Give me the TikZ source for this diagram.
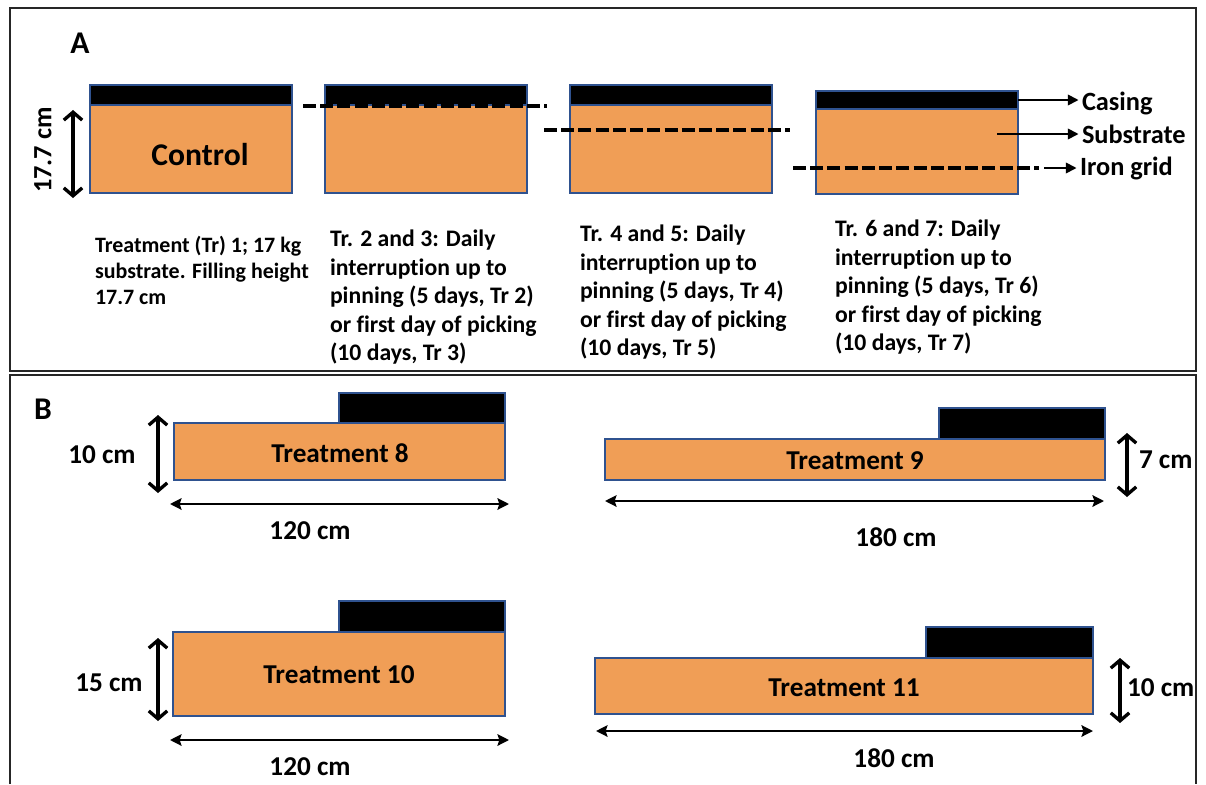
\documentclass[tikz,border=0pt]{standalone}
\usepackage{fontspec}
\setmainfont{Carlito}[Ligatures=NoCommon]
\usepackage{tikz}
\usetikzlibrary{positioning,arrows.meta,calc}
\definecolor{subfill}{RGB}{240,158,86}
\definecolor{boxline}{RGB}{47,82,143}

\begin{document}
\begin{tikzpicture}[
            x=0.02cm, y=-0.02cm,
            outer sep=0pt, inner sep=0pt,
            frame/.style={draw=black!85, line width=1.3pt},
            sub/.style={
                draw=boxline, fill=subfill, line width=0.8pt, anchor=north west
            },
            cas/.style={
                draw=boxline, fill=black, line width=0.8pt, anchor=south west
            },
            casr/.style={
                draw=boxline, fill=black, line width=0.8pt, anchor=south east
            },
            note/.style={font=\bfseries\fontsize{13.5}{16.2}\selectfont, align=left, anchor=north west},
            lbl/.style={font=\bfseries\fontsize{15.5}{18}\selectfont},
            big/.style={font=\bfseries\fontsize{18}{20}\selectfont},
            irongrid/.style={line width=1.9pt, dash pattern=on 7.4pt off 2.4pt},
            ptr/.style={-{Triangle[length=6pt, width=6pt]}, line width=1pt},
            hdim/.style={{Stealth[length=6.5pt, width=6.5pt, inset=1pt]}-{Stealth[length=6.5pt, width=6.5pt, inset=1pt]}, line width=1.4pt},
            vdim/.style={{Straight Barb[length=4.5pt, width=10.5pt]}-{Straight Barb[length=4.5pt, width=10.5pt]}, line width=1.9pt}
        ]
            \useasboundingbox (0,0) rectangle (1206,784);

            % --- KHUNG A VA B ---
            \draw[frame] (10,8) rectangle (1196,371);
            \draw[frame] (10,784) -- (10,375) -- (1196,375) -- (1196,784);
            \node[big] (A) at (80,43) {A};
            \node[big] (B) at (43,409) {B};

            % --- PHAN A: BON HOP ---
            \node[sub, minimum width=4.04cm, minimum height=1.76cm] (s1) at (90,105) {};
            \node[cas, minimum width=4.04cm, minimum height=0.4cm] (c1) at (s1.north west) {};
            \node[sub, minimum width=4.04cm, minimum height=1.76cm] (s2) at (325,105) {};
            \node[cas, minimum width=4.04cm, minimum height=0.4cm] (c2) at (s2.north west) {};
            \node[sub, minimum width=4.04cm, minimum height=1.76cm] (s3) at (570,105) {};
            \node[cas, minimum width=4.04cm, minimum height=0.4cm] (c3) at (s3.north west) {};
            \node[sub, minimum width=4.04cm, minimum height=1.70cm] (s4) at (816,109) {};
            \node[cas, minimum width=4.04cm, minimum height=0.36cm] (c4) at (s4.north west) {};
            \node[font=\bfseries\fontsize{18}{20}\selectfont] (ctrl) at (200,155) {Control};

            % chieu cao 17.7 cm
            \coordinate (v1a) at (73,110);
            \coordinate (v1b) at (73,198);
            \draw[vdim] (v1a) -- (v1b);
            \node[lbl, font=\bfseries\fontsize{15}{18}\selectfont, rotate=90] (h1) at (43,150) {17.7 cm};

            % luoi sat (net dut)
            \coordinate (g2a) at (303,106);
            \coordinate (g2b) at (547,106);
            \coordinate (g3a) at (544,130);
            \coordinate (g3b) at (790,130);
            \coordinate (g4a) at (793,168);
            \coordinate (g4b) at (1039,168);
            \coordinate (g4c) at (1044,168);
            \draw[irongrid] (g2a) -- (g2b);
            \draw[irongrid] (g3a) -- (g3b);
            \draw[irongrid] (g4a) -- (g4b);

            % --- CHU THICH BEN PHAI ---
            \node[lbl, font=\bfseries\fontsize{15}{18}\selectfont, anchor=west] (casing) at (1082,103) {Casing};
            \node[lbl, font=\bfseries\fontsize{15}{18}\selectfont, anchor=west] (substrate) at (1082,134) {Substrate};
            \node[lbl, font=\bfseries\fontsize{15}{18}\selectfont, anchor=west] (iron) at (1080,168) {Iron grid};
            \coordinate (p4) at (997,134);
            \draw[ptr] (c4.east) -- ([xshift=-2pt]c4.east -| casing.west);
            \draw[ptr] (p4) -- ([xshift=-2pt]p4 -| substrate.west);
            \draw[ptr] (g4c) -- ([xshift=-2pt]g4c -| iron.west);

            % --- MO TA CAC NGHIEM THUC ---
            \node[note, font=\bfseries\fontsize{12.5}{14.8}\selectfont] (t1) at (95,236) {Treatment (Tr) 1; 17 kg\\substrate. Filling height\\17.7 cm};
            \node[note] (t2) at (330,230) {Tr. 2 and 3: Daily\\interruption up to\\pinning (5 days, Tr 2)\\or first day of picking\\(10 days, Tr 3)};
            \node[note] (t3) at (580,225) {Tr. 4 and 5: Daily\\interruption up to\\pinning (5 days, Tr 4)\\or first day of picking\\(10 days, Tr 5)};
            \node[note] (t4) at (835,220) {Tr. 6 and 7: Daily\\interruption up to\\pinning (5 days, Tr 6)\\or first day of picking\\(10 days, Tr 7)};

            % --- PHAN B ---
            \node[sub, minimum width=6.62cm, minimum height=1.14cm] (s8) at (174,423) {};
            \node[casr, minimum width=3.32cm, minimum height=0.6cm] (c8) at (s8.north east) {};
            \node[sub, minimum width=10cm, minimum height=0.82cm] (s9) at (605,439) {};
            \node[casr, minimum width=3.32cm, minimum height=0.62cm] (c9) at (s9.north east) {};
            \node[sub, minimum width=6.64cm, minimum height=1.68cm] (s10) at (173,632) {};
            \node[casr, minimum width=3.32cm, minimum height=0.62cm] (c10) at (s10.north east) {};
            \node[sub, minimum width=9.96cm, minimum height=1.12cm] (s11) at (595,658) {};
            \node[casr, minimum width=3.34cm, minimum height=0.62cm] (c11) at (s11.north east) {};

            \node[lbl] (n8) at (340,453) {Treatment 8};
            \node[lbl] (n9) at (855,461) {Treatment 9};
            \node[lbl] (n10) at (339,675) {Treatment 10};
            \node[lbl] (n11) at (844,688) {Treatment 11};

            % kich thuoc
            \coordinate (h8a) at (170,504);  \coordinate (h8b) at (509,504);
            \coordinate (h9a) at (605,501);  \coordinate (h9b) at (1104,501);
            \coordinate (h10a) at (170,740); \coordinate (h10b) at (509,740);
            \coordinate (h11a) at (596,731); \coordinate (h11b) at (1093,731);
            \draw[hdim] (h8a) -- (h8b);
            \draw[hdim] (h9a) -- (h9b);
            \draw[hdim] (h10a) -- (h10b);
            \draw[hdim] (h11a) -- (h11b);

            \coordinate (v8a) at (158,415);   \coordinate (v8b) at (158,493);
            \coordinate (v9a) at (1127,433);  \coordinate (v9b) at (1127,497);
            \coordinate (v10a) at (158,638);  \coordinate (v10b) at (158,721);
            \coordinate (v11a) at (1120,658); \coordinate (v11b) at (1120,723);
            \draw[vdim] (v8a) -- (v8b);
            \draw[vdim] (v9a) -- (v9b);
            \draw[vdim] (v10a) -- (v10b);
            \draw[vdim] (v11a) -- (v11b);

            \node[lbl] (w8) at (310,531) {120 cm};
            \node[lbl] (w9) at (896,537) {180 cm};
            \node[lbl] (w10) at (310,767) {120 cm};
            \node[lbl] (w11) at (894,758) {180 cm};
            \node[lbl] (d8) at (102,455) {10 cm};
            \node[lbl, anchor=west] (d9) at (1139,460) {7 cm};
            \node[lbl] (d10) at (109,683) {15 cm};
            \node[lbl, anchor=west] (d11) at (1127,688) {10 cm};

        \end{tikzpicture}
\end{document}
